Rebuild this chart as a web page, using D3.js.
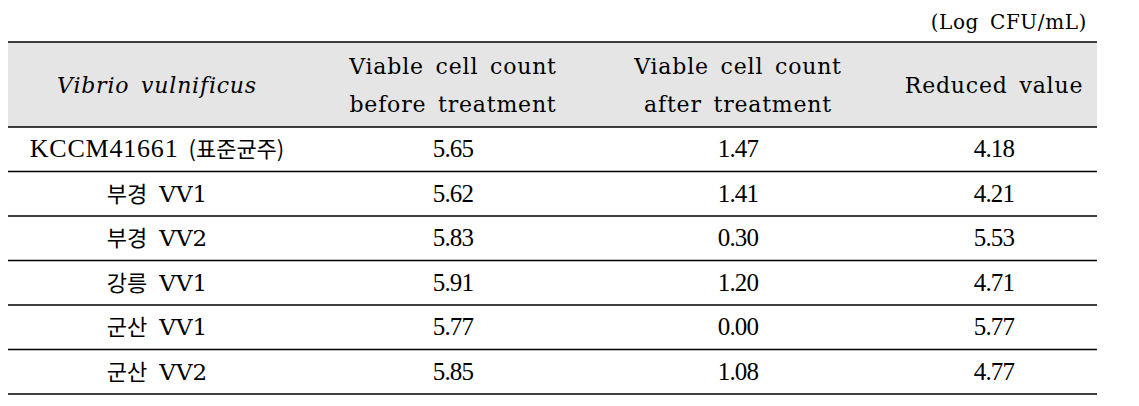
<!DOCTYPE html>
<html>

<head>
    <meta charset="UTF-8">
    <title>Vibrio vulnificus viable cell count</title>
    <style>
        body { margin: 0; background: #fff; }
        .lat { font-family: 'DejaVu Serif', 'Liberation Serif', serif; }
        .num { font-family: 'Liberation Serif', 'Times New Roman', serif; }
        .kr { font-family: 'Noto Sans CJK KR', sans-serif; }
    </style>
</head>

<body>
    <svg></svg>
    <script src="https://d3js.org/d3.v7.min.js"></script>
    <script>
        // table data
        const unitLabel = "(Log CFU/mL)";
        const headers = [
            ["Vibrio vulnificus"],
            ["Viable cell count", "before treatment"],
            ["Viable cell count", "after treatment"],
            ["Reduced value"]
        ];
        // strain name split into two parts so fonts can differ
        const strains = [
            ["KCCM41661", "(표준균주)"],
            ["부경", "VV1"],
            ["부경", "VV2"],
            ["강릉", "VV1"],
            ["군산", "VV1"],
            ["군산", "VV2"]
        ];
        const beforeCount = [5.65, 5.62, 5.83, 5.91, 5.77, 5.85];
        const afterCount = [1.47, 1.41, 0.30, 1.20, 0.00, 1.08];
        const reducedValue = [4.18, 4.21, 5.53, 4.71, 5.77, 4.77];

        let width = 1139,
            height = 406;

        let svg = d3.select("svg")
            .attr("width", width)
            .attr("height", height);

        const tLeft = 8, tRight = 1097;
        const tTop = 42, headBottom = 127, tBottom = 394;

        // column centres
        const colX = d3.scaleOrdinal()
            .domain([0, 1, 2, 3])
            .range([157, 453, 738, 994]);

        const rowY = d3.scaleBand()
            .domain(d3.range(strains.length))
            .range([headBottom, tBottom]);

        // unit label
        svg.append("text")
            .attr("class", "lat")
            .attr("x", 1087)
            .attr("y", 29)
            .attr("text-anchor", "end")
            .attr("font-size", 20)
            .attr("letter-spacing", 0.6)
            .attr("word-spacing", 4)
            .text(unitLabel);

        // header background
        svg.append("rect")
            .attr("x", tLeft)
            .attr("y", tTop)
            .attr("width", tRight - tLeft)
            .attr("height", headBottom - tTop)
            .attr("fill", "#e5e5e5");

        // header text
        const head = svg.append("g");
        headers.forEach((lines, i) => {
            const t = head.append("text")
                .attr("class", "lat")
                .attr("x", colX(i))
                .attr("text-anchor", "middle")
                .attr("font-size", 22)
                .attr("letter-spacing", 0.8)
                .attr("word-spacing", 4)
                .attr("font-style", i == 0 ? "italic" : "normal");
            const y0 = (tTop + headBottom) / 2 - (lines.length - 1) * 19 + 8;
            lines.forEach((l, j) => {
                t.append("tspan")
                    .attr("x", colX(i))
                    .attr("y", y0 + j * 38)
                    .text(l);
            });
        });

        // rows
        const rows = svg.append("g")
            .selectAll("g")
            .data(strains)
            .enter().append("g")
            .attr("transform", (d, i) => "translate(0," + (rowY(i) + rowY.bandwidth() / 2 + 8) + ")");

        rows.append("text")
            .attr("x", colX(0))
            .attr("text-anchor", "middle")
            .each(function (d, i) {
                const t = d3.select(this);
                if (i == 0) {
                    t.append("tspan").attr("class", "num").attr("font-size", 26).attr("letter-spacing", 0.8).text(d[0]);
                    t.append("tspan").attr("class", "kr").attr("font-size", 22).attr("dx", 10).text(d[1]);
                } else {
                    t.append("tspan").attr("class", "kr").attr("font-size", 22).text(d[0]);
                    t.append("tspan").attr("class", "lat").attr("font-size", 23).attr("dx", 12).text(d[1]);
                }
            });

        const numCols = [beforeCount, afterCount, reducedValue];
        numCols.forEach((vals, c) => {
            rows.append("text")
                .attr("class", "num")
                .attr("x", colX(c + 1))
                .attr("text-anchor", "middle")
                .attr("font-size", 25)
                .attr("letter-spacing", -0.8)
                .text((d, i) => vals[i].toFixed(2));
        });

        // rules
        const ruleY = [tTop, headBottom].concat(d3.range(strains.length).map(i => rowY(i) + rowY.bandwidth()));
        svg.append("g")
            .selectAll("line")
            .data(ruleY)
            .enter().append("line")
            .attr("x1", tLeft)
            .attr("x2", tRight)
            .attr("y1", d => d)
            .attr("y2", d => d)
            .attr("stroke", "#000")
            .attr("stroke-width", 1.6);
    </script>
</body>

</html>
